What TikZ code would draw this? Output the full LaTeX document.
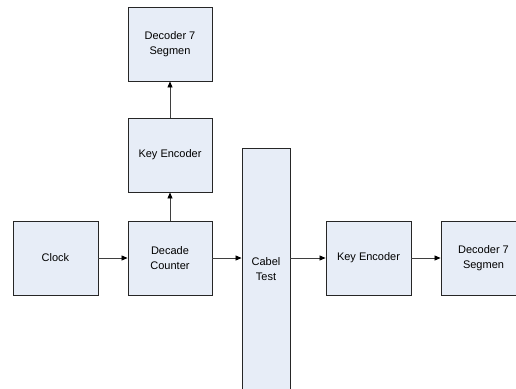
\documentclass[tikz,border=0pt]{standalone}
\usepackage{fontspec}
\setmainfont{Liberation Sans}
\usetikzlibrary{arrows.meta}
\definecolor{boxfill}{HTML}{E7EDF7}
\definecolor{boxline}{HTML}{262626}
\definecolor{arrline}{HTML}{3F3F3F}
\begin{document}
\begin{tikzpicture}[x=1pt,y=-1pt,
  blk/.style={draw=boxline,fill=boxfill,line width=0.9pt,minimum width=84pt,minimum height=74pt,
    inner sep=0pt,align=center,font=\fontsize{11}{15}\selectfont},
  conn/.style={draw=arrline,line width=0.8pt,-{Triangle[length=6pt,width=5pt,color=black]}}]
\useasboundingbox (0,0) rectangle (516,388);
\clip (0,0) rectangle (516,388);
\node[blk] (dec1) at (170,44) {Decoder 7\\Segmen};
\node[blk] (key1) at (170,155) {Key Encoder};
\node[blk,minimum width=85pt] (clk) at (55.5,258) {Clock};
\node[blk] (cnt) at (170,258) {Decade\\Counter};
\node[blk,minimum width=48pt,minimum height=242pt] (cab) at (266,269) {Cabel\\Test};
\node[blk,minimum width=85pt] (key2) at (368.5,258) {Key Encoder};
\node[blk,minimum width=85pt] (dec2) at (483.5,258) {Decoder 7\\Segmen};
\draw[conn] (clk) -- (cnt);
\draw[conn] (cnt.east) -- (cnt.east -| cab.west);
\draw[conn] (cab.east |- key2.west) -- (key2.west);
\draw[conn] (key2) -- (dec2);
\draw[conn] (cnt) -- (key1);
\draw[conn] (key1) -- (dec1);
\end{tikzpicture}
\end{document}
